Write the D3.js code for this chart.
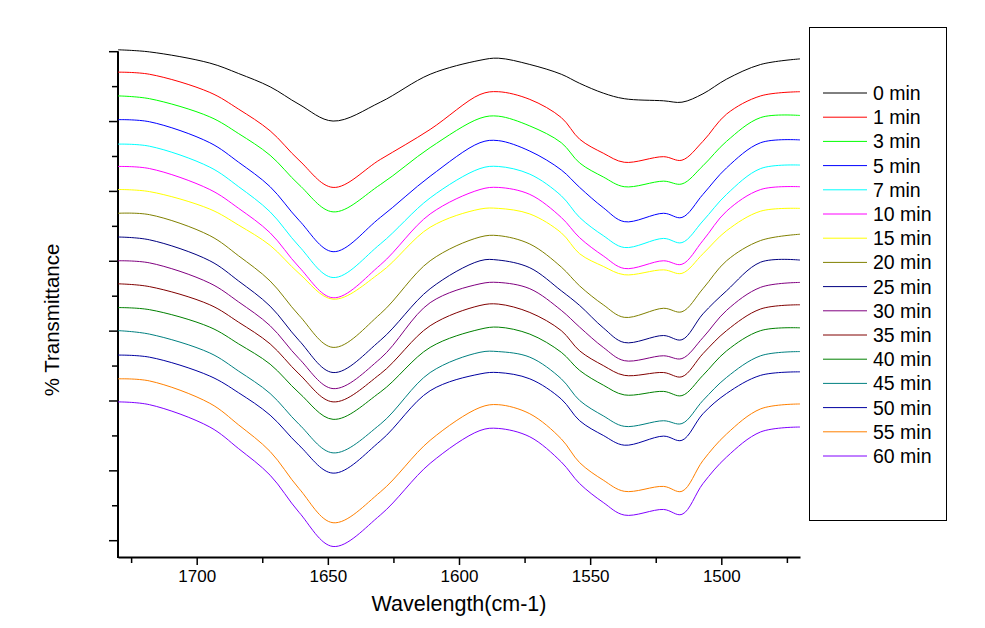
<!DOCTYPE html>
<html><head><meta charset="utf-8">
<script src="https://cdn.jsdelivr.net/npm/d3@7"></script>
<style>
html,body{margin:0;padding:0;background:#fff;}
svg text{font-family:"Liberation Sans",Arial,sans-serif;fill:#000;}
</style></head>
<body>
<svg id="chart" width="985" height="628"></svg>
<script>
// Wavenumber sample points (cm-1)
const wavenumbers = [1730, 1718, 1695, 1684, 1672, 1661, 1648, 1630, 1611, 1592, 1585, 1573, 1561, 1554, 1545, 1537, 1522, 1515, 1507, 1498, 1485, 1470];

const seriesLabels = ["0 min","1 min","3 min","5 min","7 min","10 min","15 min","20 min","25 min","30 min","35 min","40 min","45 min","50 min","55 min","60 min"];
const seriesColors = ["#000000","#ff0000","#00ff00","#0000ff","#00ffff","#ff00ff","#ffff00","#808000","#000080","#800080","#800000","#008000","#008080","#0000a0","#ff8000","#8000ff"];

// % Transmittance (stacked, arbitrary offset units)
const t0  = [70.2, 69.9, 68.3, 66.8, 64.9, 62.4, 60.0, 62.7, 66.7, 68.7, 69.0, 68.1, 66.7, 65.4, 64.0, 63.2, 62.9, 62.7, 63.9, 66.0, 68.1, 68.9];
const t1  = [67.0, 66.7, 64.1, 61.7, 58.6, 54.4, 50.5, 54.5, 58.8, 63.8, 64.2, 63.1, 60.5, 57.4, 55.4, 54.1, 54.9, 54.4, 57.1, 61.0, 63.6, 64.2];
const t3  = [63.6, 63.2, 60.6, 58.2, 55.1, 50.9, 47.0, 50.9, 56.2, 60.4, 60.7, 59.3, 56.9, 54.0, 52.0, 50.6, 51.4, 51.0, 53.6, 57.1, 60.5, 60.8];
const t5  = [60.2, 59.9, 56.9, 54.1, 50.6, 45.8, 41.3, 46.2, 52.1, 56.9, 57.2, 55.7, 53.0, 50.5, 47.6, 45.6, 46.8, 46.2, 49.5, 53.3, 56.9, 57.3];
const t7  = [56.7, 56.4, 53.4, 50.6, 47.0, 42.1, 37.6, 42.4, 49.0, 53.2, 53.5, 52.4, 49.3, 46.2, 43.6, 41.9, 43.2, 42.6, 45.7, 49.5, 53.2, 53.7];
const t10 = [53.5, 53.2, 50.2, 47.5, 44.0, 39.1, 34.7, 39.4, 46.7, 50.2, 50.5, 49.5, 46.2, 43.3, 40.7, 38.9, 40.0, 39.5, 42.9, 47.1, 50.2, 50.6];
const t15 = [50.2, 49.9, 47.4, 45.1, 42.2, 38.2, 34.5, 38.3, 44.8, 47.4, 47.5, 46.7, 44.0, 41.0, 39.2, 38.0, 38.7, 38.2, 41.0, 44.3, 47.1, 47.5];
const t20 = [46.8, 46.6, 43.6, 40.7, 37.1, 32.2, 27.6, 32.4, 40.0, 43.4, 43.6, 42.4, 39.1, 36.4, 33.7, 31.9, 33.2, 32.7, 36.0, 40.0, 42.9, 43.8];
const t25 = [43.4, 43.0, 40.0, 37.1, 33.5, 28.6, 24.0, 28.6, 36.0, 40.0, 40.1, 39.0, 35.7, 33.6, 30.4, 28.3, 29.3, 28.7, 32.4, 35.7, 39.8, 40.1];
const t30 = [40.0, 39.7, 36.8, 34.1, 30.7, 26.0, 21.7, 26.0, 34.0, 36.7, 36.9, 36.0, 32.9, 30.5, 27.6, 25.7, 26.4, 26.0, 29.0, 32.9, 36.2, 36.9];
const t35 = [36.7, 36.3, 33.7, 31.2, 28.1, 23.8, 19.8, 23.8, 30.7, 33.6, 33.8, 32.6, 30.0, 27.1, 25.0, 23.6, 24.0, 23.4, 26.7, 30.0, 33.1, 33.7];
const t40 = [33.3, 33.0, 30.5, 28.1, 25.2, 21.1, 17.3, 21.2, 27.6, 30.2, 30.5, 29.5, 26.9, 24.3, 22.2, 20.8, 21.3, 20.7, 23.6, 27.1, 30.0, 30.4];
const t45 = [30.0, 29.5, 26.8, 24.2, 21.0, 16.6, 12.5, 16.6, 24.0, 26.9, 27.0, 26.2, 23.1, 20.0, 17.8, 16.3, 17.1, 16.7, 20.0, 23.3, 26.4, 27.0];
const t50 = [26.5, 26.2, 23.5, 21.1, 17.9, 13.6, 9.6, 14.2, 21.4, 23.8, 24.0, 23.1, 20.2, 17.1, 15.0, 13.6, 14.9, 14.3, 18.1, 21.0, 23.6, 24.1];
const t55 = [23.1, 22.8, 19.6, 16.5, 12.7, 7.4, 2.5, 6.9, 14.3, 19.0, 19.4, 18.1, 14.5, 11.1, 8.6, 7.0, 7.7, 7.0, 11.4, 15.2, 18.8, 19.5];
const t60 = [19.8, 19.4, 16.2, 13.1, 9.3, 4.0, -0.9, 3.6, 11.0, 15.7, 16.0, 14.8, 11.2, 8.1, 5.4, 3.6, 4.4, 3.7, 8.1, 11.9, 15.5, 16.2];

const seriesValues = [t0,t1,t3,t5,t7,t10,t15,t20,t25,t30,t35,t40,t45,t50,t55,t60];

const xMajorTicks = [1700, 1650, 1600, 1550, 1500];
const xMinorTicks = [1725, 1675, 1625, 1575, 1525, 1475];
const yMajorTicks = [0, 10, 20, 30, 40, 50, 60, 70];
const yMinorTicks = [5, 15, 25, 35, 45, 55, 65];

const svg = d3.select("#chart");
const plotLeft = 118, plotRight = 800, axisY = 557;

const x = d3.scaleLinear().domain([1730, 1470]).range([plotLeft, plotRight]);
const y = d3.scaleLinear().domain([0, 70]).range([540.2, 51.2]);

// X axis
const gx = svg.append("g").attr("transform", `translate(0,${axisY})`);
gx.call(d3.axisBottom(x).tickValues(xMajorTicks).tickSize(8).tickSizeOuter(0).tickFormat(d3.format("d")))
  .call(g => g.select(".domain").attr("stroke-width", 2))
  .call(g => g.selectAll(".tick line").attr("stroke-width", 1.5))
  .call(g => g.selectAll(".tick text").attr("font-size", 17).attr("dy", "0.95em").attr("y", 9));
svg.append("g").attr("transform", `translate(0,${axisY})`)
  .call(d3.axisBottom(x).tickValues(xMinorTicks).tickSize(6).tickFormat(""))
  .call(g => g.select(".domain").remove())
  .call(g => g.selectAll(".tick line").attr("stroke-width", 1.5));

// Y axis
const gy = svg.append("g").attr("transform", `translate(${plotLeft},0)`);
gy.call(d3.axisLeft(y).tickValues(yMajorTicks).tickSize(9).tickFormat(""))
  .call(g => g.select(".domain").remove())
  .call(g => g.selectAll(".tick line").attr("stroke-width", 1.5));
svg.append("g").attr("transform", `translate(${plotLeft},0)`)
  .call(d3.axisLeft(y).tickValues(yMinorTicks).tickSize(6).tickFormat(""))
  .call(g => g.select(".domain").remove())
  .call(g => g.selectAll(".tick line").attr("stroke-width", 1.5));
svg.append("line").attr("x1", plotLeft).attr("x2", plotLeft)
  .attr("y1", y(70)).attr("y2", axisY + 1).attr("stroke", "#000").attr("stroke-width", 2);

// Titles
svg.append("text").attr("x", 459).attr("y", 611).attr("text-anchor", "middle")
  .attr("font-size", 21.5).text("Wavelength(cm-1)");
svg.append("text").attr("transform", "translate(59,320) rotate(-90)").attr("text-anchor", "middle")
  .attr("font-size", 20.5).text("% Transmittance");

// Curves
const line = d3.line().x((d, i) => x(wavenumbers[i])).y(d => y(d)).curve(d3.curveCatmullRom.alpha(0.5));
svg.append("g").selectAll("path").data(seriesValues).join("path")
  .attr("d", d => line(d)).attr("fill", "none")
  .attr("stroke", (d, i) => seriesColors[i]).attr("stroke-width", 1);

// Legend
svg.append("rect").attr("x", 809.5).attr("y", 27.5).attr("width", 137).attr("height", 493)
  .attr("fill", "none").attr("stroke", "#000").attr("stroke-width", 1);
const leg = svg.append("g").selectAll("g").data(seriesLabels).join("g")
  .attr("transform", (d, i) => `translate(823,${93 + i * 24.2})`);
leg.append("line").attr("x1", 0).attr("x2", 44).attr("y1", 0).attr("y2", 0)
  .attr("stroke", (d, i) => seriesColors[i]).attr("stroke-width", 1);
leg.append("text").attr("x", 50).attr("y", 0).attr("dy", "0.36em").attr("font-size", 19.5).text(d => d);
</script>
</body></html>
